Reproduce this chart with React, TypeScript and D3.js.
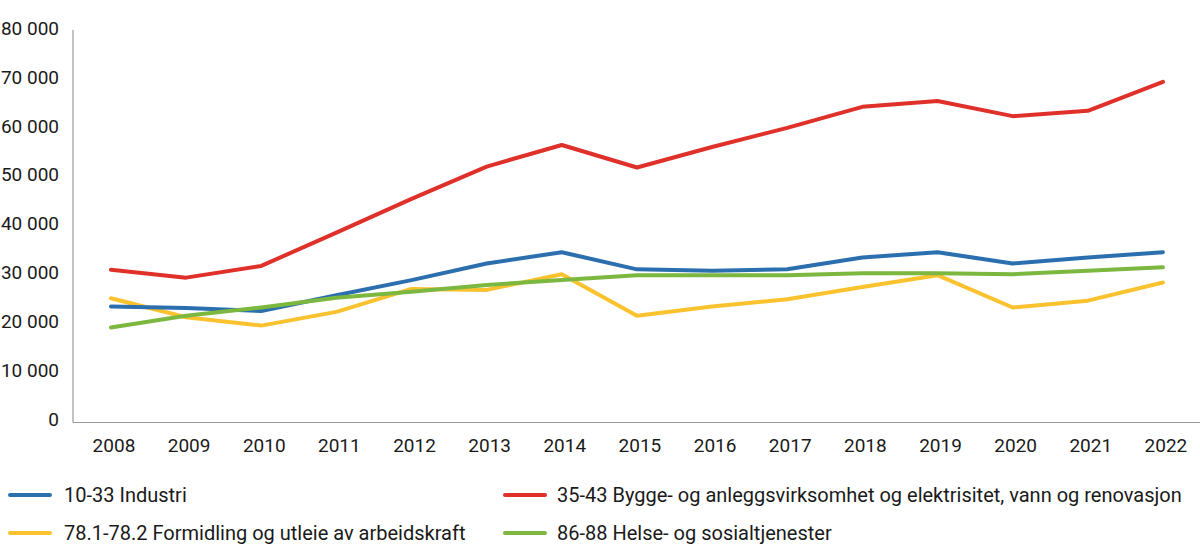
import { useRef, useEffect } from 'react'
import * as d3 from 'd3'

const years = ['2008', '2009', '2010', '2011', '2012', '2013', '2014', '2015', '2016', '2017', '2018', '2019', '2020', '2021', '2022']
const industri = [23700, 23400, 22800, 26000, 29100, 32500, 34800, 31300, 31000, 31300, 33700, 34800, 32500, 33700, 34800]
const bygg = [31200, 29600, 32000, 38800, 45700, 52300, 56700, 52100, 56300, 60200, 64500, 65700, 62600, 63700, 69600]
const formidling = [25400, 21500, 19800, 22600, 27300, 27100, 30300, 21800, 23700, 25200, 27700, 30100, 23500, 24900, 28600]
const helse = [19400, 21800, 23500, 25500, 26700, 28100, 29100, 30100, 30100, 30100, 30500, 30500, 30300, 31000, 31700]
const yTicks = [0, 10000, 20000, 30000, 40000, 50000, 60000, 70000, 80000]

const seriesNames = [
  '10-33 Industri',
  '35-43 Bygge- og anleggsvirksomhet og elektrisitet, vann og renovasjon',
  '78.1-78.2 Formidling og utleie av arbeidskraft',
  '86-88 Helse- og sosialtjenester',
]
const seriesColors = ['#2c6fae', '#e0302a', '#f9c22e', '#7cb83f']

const FONT = 'Roboto, "Open Sans", sans-serif'

export default function App() {
  const svgRef = useRef<SVGSVGElement>(null)

  useEffect(() => {
    if (!svgRef.current) return
    document.body.style.margin = '0'

    const svg = d3.select(svgRef.current)
    svg.selectAll('*').remove()

    const width = 1200
    const height = 559

    svg.attr('width', width).attr('height', height)

    const x = d3.scalePoint<string>().domain(years).range([73.4, 1200.5]).padding(0.5)
    const y = d3.scaleLinear().domain([0, 80000]).range([422.5, 31])

    // Axis lines
    svg.append('line')
      .attr('x1', 73).attr('x2', 73)
      .attr('y1', 30).attr('y2', y(0))
      .attr('stroke', '#9a9a9a').attr('stroke-width', 1.2)
    svg.append('line')
      .attr('x1', 73).attr('x2', width)
      .attr('y1', y(0)).attr('y2', y(0))
      .attr('stroke', '#9a9a9a').attr('stroke-width', 1.2)

    // Y tick labels
    const fmt = (d: number) => d3.format(',')(d).replace(/,/g, ' ')
    svg.selectAll('.ylab')
      .data(yTicks)
      .enter()
      .append('text')
      .attr('x', 59)
      .attr('y', (d) => y(d) - 3)
      .attr('dy', '0.35em')
      .attr('text-anchor', 'end')
      .attr('fill', '#1a1a1a')
      .attr('font-size', '19px')
      .attr('font-family', FONT)
      .text((d) => fmt(d))

    // X tick labels
    svg.selectAll('.xlab')
      .data(years)
      .enter()
      .append('text')
      .attr('x', (d) => (x(d) ?? 0) + 3)
      .attr('y', 452)
      .attr('text-anchor', 'middle')
      .attr('fill', '#1a1a1a')
      .attr('font-size', '19px')
      .attr('font-family', FONT)
      .text((d) => d)

    const line = d3
      .line<number>()
      .x((_, i) => x(years[i]) ?? 0)
      .y((d) => y(d))

    const all = [industri, bygg, formidling, helse]
    // draw order: yellow, blue, green, red
    ;[2, 0, 3, 1].forEach((k) => {
      svg.append('path')
        .datum(all[k])
        .attr('fill', 'none')
        .attr('stroke', seriesColors[k])
        .attr('stroke-width', 4)
        .attr('stroke-linejoin', 'round')
        .attr('stroke-linecap', 'round')
        .attr('d', line)
    })

    // Legend
    const legendPos = [
      { sx: 10, tx: 64, y: 495 },
      { sx: 505, tx: 557, y: 495 },
      { sx: 10, tx: 64, y: 533 },
      { sx: 505, tx: 557, y: 533 },
    ]
    seriesNames.forEach((name, i) => {
      const p = legendPos[i]
      svg.append('line')
        .attr('x1', p.sx).attr('x2', p.sx + 40)
        .attr('y1', p.y).attr('y2', p.y)
        .attr('stroke', seriesColors[i])
        .attr('stroke-width', 4)
        .attr('stroke-linecap', 'round')
      svg.append('text')
        .attr('x', p.tx)
        .attr('y', p.y)
        .attr('dy', '0.35em')
        .attr('fill', '#1a1a1a')
        .attr('font-size', '20px')
        .attr('font-family', FONT)
        .text(name)
    })
  }, [])

  return <svg ref={svgRef} style={{ display: 'block' }} />
}
